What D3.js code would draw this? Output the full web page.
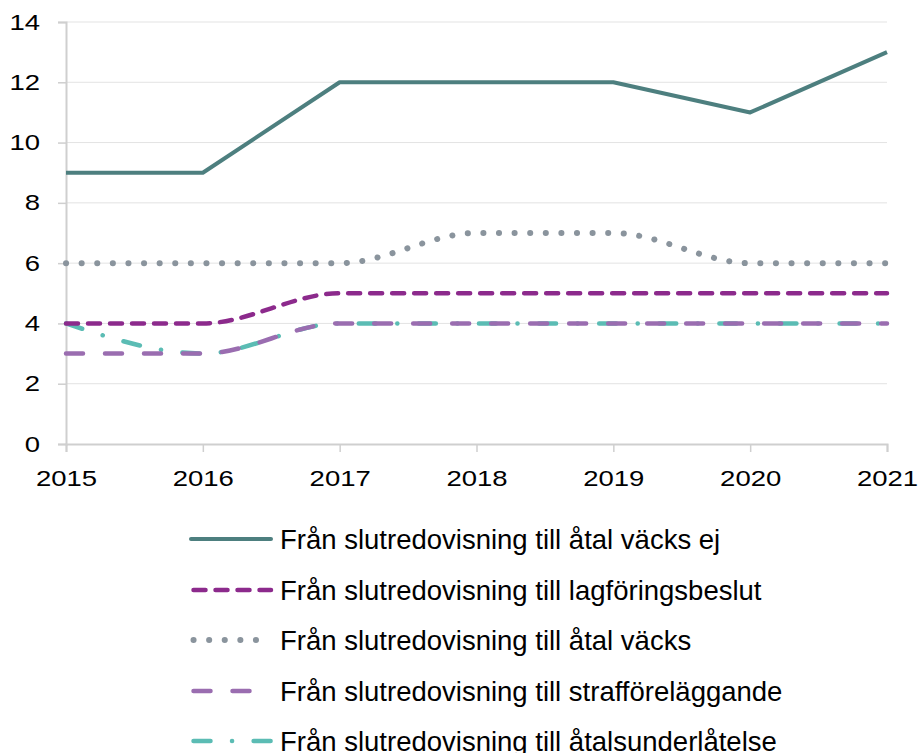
<!DOCTYPE html>
<html>
<head>
<meta charset="utf-8">
<script src="https://cdn.jsdelivr.net/npm/d3@7"></script>
<style>
  body { margin: 0; background: #fff; }
  text { font-family: "Liberation Sans", Arial, sans-serif; fill: #000; }
</style>
</head>
<body>
<div id="chart"></div>
<script>
// Data
const years = [2015, 2016, 2017, 2018, 2019, 2020, 2021];
const seriesNames = [
    "Från slutredovisning till åtal väcks ej",
    "Från slutredovisning till lagföringsbeslut",
    "Från slutredovisning till åtal väcks",
    "Från slutredovisning till strafföreläggande",
    "Från slutredovisning till åtalsunderlåtelse"
];
const atalVacksEj = [9, 9, 12, 12, 12, 11, 13];
const lagforingsbeslut = [4, 4, 5, 5, 5, 5, 5];
const atalVacks = [6, 6, 6, 7, 7, 6, 6];
const strafforelaggande = [3, 3, 4, 4, 4, 4, 4];
const atalsunderlatelse = [4, 3, 4, 4, 4, 4, 4];
const yTicks = [0, 2, 4, 6, 8, 10, 12, 14];

// Styles per series
const styles = [
    { color: "#4d7f7f", dash: null, width: 4, curve: d3.curveLinear },
    { color: "#8c2a8c", dash: "12,10", width: 4.5, curve: d3.curveMonotoneX },
    { color: "#8a949d", dash: "0.1,15.5", width: 6, curve: d3.curveMonotoneX },
    { color: "#9a6db0", dash: "17,22", width: 4.5, curve: d3.curveMonotoneX },
    { color: "#5bbcb4", dash: "17,21.5,0.1,21.5", width: 4.5, curve: d3.curveMonotoneX }
];
const allSeries = [atalVacksEj, lagforingsbeslut, atalVacks, strafforelaggande, atalsunderlatelse];

const width = 918, height = 753;
const plot = { left: 66, right: 887, top: 22, bottom: 444 };
const tickStretch = 1.25; // tick digits are drawn wider than the font

const svg = d3.select("#chart")
    .append("svg")
    .attr("width", width)
    .attr("height", height);

const x = d3.scaleLinear()
    .domain([2015, 2021])
    .range([plot.left, plot.right]);

const y = d3.scaleLinear()
    .domain([0, 14])
    .range([plot.bottom, plot.top]);

// Grid lines
svg.append("g")
    .selectAll("line")
    .data(yTicks.filter(d => d > 0))
    .enter()
    .append("line")
    .attr("x1", plot.left)
    .attr("x2", plot.right)
    .attr("y1", d => y(d))
    .attr("y2", d => y(d))
    .attr("stroke", "#e3e3e3")
    .attr("stroke-width", 1);

// Y axis
const yAxis = svg.append("g")
    .attr("transform", `translate(${plot.left},0)`)
    .call(d3.axisLeft(y).tickValues(yTicks).tickSize(8).tickPadding(18).tickFormat(d3.format("d")));
yAxis.select(".domain").attr("stroke", "#cfcfcf").attr("stroke-width", 2);
yAxis.selectAll(".tick line").attr("stroke", "#cfcfcf").attr("stroke-width", 1.5);
yAxis.selectAll(".tick text")
    .style("font-size", "22px")
    .attr("fill", "#000")
    .attr("x", -26 / tickStretch)
    .attr("transform", `scale(${tickStretch},1)`);

// X axis
const xAxis = svg.append("g")
    .attr("transform", `translate(0,${plot.bottom})`)
    .call(d3.axisBottom(x).tickValues(years).tickSize(8).tickPadding(18).tickFormat(d3.format("d")));
xAxis.select(".domain").attr("stroke", "#cfcfcf").attr("stroke-width", 2);
xAxis.selectAll(".tick line").attr("stroke", "#cfcfcf").attr("stroke-width", 1.5);
xAxis.selectAll(".tick text")
    .style("font-size", "22px")
    .attr("fill", "#000")
    .attr("transform", `scale(${tickStretch},1)`);

// Lines (draw in reverse order so the first series is on top)
allSeries.map((values, i) => ({ values, i })).reverse().forEach(({ values, i }) => {
    const s = styles[i];
    const line = d3.line()
        .x((d, j) => x(years[j]))
        .y(d => y(d))
        .curve(s.curve);
    svg.append("path")
        .datum(values)
        .attr("fill", "none")
        .attr("stroke", s.color)
        .attr("stroke-width", s.width)
        .attr("stroke-linecap", s.dash ? "round" : "butt")
        .attr("stroke-linejoin", "round")
        .attr("stroke-dasharray", s.dash)
        .attr("d", line);
});

// Legend
const legendY = [539, 590, 640, 691, 741];
const legend = svg.append("g");
seriesNames.forEach((name, i) => {
    const s = styles[i];
    const g = legend.append("g").attr("transform", `translate(0,${legendY[i]})`);
    g.append("line")
        .attr("x1", s.dash ? 193.5 : 191)
        .attr("x2", 271)
        .attr("y1", 0)
        .attr("y2", 0)
        .attr("stroke", s.color)
        .attr("stroke-width", s.width)
        .attr("stroke-linecap", "round")
        .attr("stroke-dasharray", s.dash);
    g.append("text")
        .attr("x", 280)
        .attr("y", 0)
        .attr("dy", "0.36em")
        .style("font-size", "27.5px")
        .text(name);
});
</script>
</body>
</html>
